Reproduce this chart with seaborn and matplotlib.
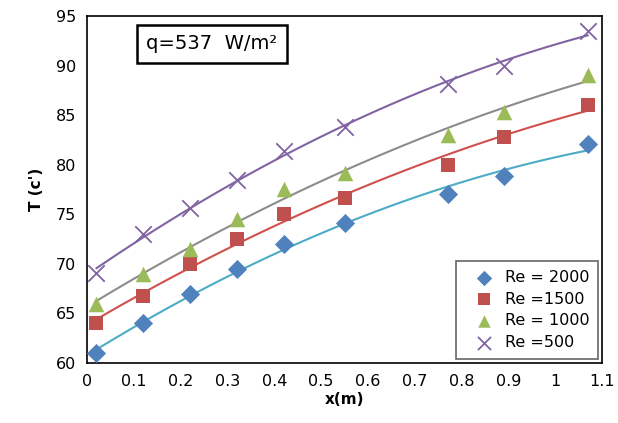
import numpy as np
import pandas as pd
import matplotlib
matplotlib.use("Agg")
import matplotlib.pyplot as plt
import seaborn as sns

# Data
x_m = [0.02, 0.12, 0.22, 0.32, 0.42, 0.55, 0.77, 0.89, 1.07]
t_re2000 = [61.0, 64.0, 67.0, 69.5, 72.0, 74.1, 77.0, 78.9, 82.1]
t_re1500 = [64.0, 66.8, 70.0, 72.5, 75.0, 76.6, 80.0, 82.8, 86.0]
t_re1000 = [66.0, 69.0, 71.5, 74.5, 77.5, 79.2, 83.0, 85.3, 89.0]
t_re500 = [69.1, 73.0, 75.6, 78.5, 81.4, 83.8, 88.1, 90.0, 93.5]

labels = ["Re = 2000", "Re =1500", "Re = 1000", "Re =500"]
x_ticks = [0, 0.1, 0.2, 0.3, 0.4, 0.5, 0.6, 0.7, 0.8, 0.9, 1, 1.1]
x_ticklabels = ["0", "0.1", "0.2", "0.3", "0.4", "0.5", "0.6", "0.7", "0.8", "0.9", "1", "1.1"]
y_ticks = [60, 65, 70, 75, 80, 85, 90, 95]

sns.set_style("white")
plt.rcParams['font.family'] = ['DejaVu Sans']
plt.rcParams['text.color'] = 'black'
plt.rcParams['xtick.color'] = 'black'
plt.rcParams['ytick.color'] = 'black'
plt.rcParams['axes.labelcolor'] = 'black'

fig = plt.figure(figsize=(6.18, 4.23), dpi=100)
ax = fig.add_axes([87 / 618, 1 - 363 / 423, (602 - 87) / 618, (363 - 16) / 423])

series = [
    (t_re2000, "D", "#4F81BD", "#4BACC6", 95),
    (t_re1500, "s", "#C0504D", "#D0504D", 115),
    (t_re1000, "^", "#9BBB59", "#8C8C8C", 125),
    (t_re500, "x", "#8064A2", "#8064A2", 140),
]

df = pd.DataFrame({"x": x_m})
for (vals, marker, mcol, lcol, size), lab in zip(series, labels):
    df["T"] = vals
    # Excel-style 2nd order polynomial trendline
    sns.regplot(data=df, x="x", y="T", ax=ax, order=2, ci=None, truncate=True,
                marker=marker, label=lab,
                scatter_kws={"s": size, "color": mcol, "alpha": 1,
                             "linewidths": 1.3 if marker == "x" else 0, "zorder": 3},
                line_kws={"color": lcol, "lw": 1.5, "zorder": 2})

ax.set_xlim(0, 1.1)
ax.set_ylim(60, 95)
ax.set_xticks(x_ticks)
ax.set_xticklabels(x_ticklabels)
ax.set_yticks(y_ticks)
ax.tick_params(axis="both", length=0, labelsize=11.5, pad=8)
ax.set_xlabel("x(m)", fontsize=11, fontweight="bold", labelpad=2)
ax.set_ylabel("T (c')", fontsize=11, fontweight="bold", labelpad=8)
for sp in ax.spines.values():
    sp.set_color("black")
    sp.set_linewidth(1.2)

ax.text(0.115, 0.92, "q=537  W/m²", transform=ax.transAxes, fontsize=14,
        va="center", ha="left",
        bbox=dict(boxstyle="square,pad=0.5", facecolor="white", edgecolor="black", linewidth=1.8))

leg = ax.legend(loc="lower right", bbox_to_anchor=(0.993, 0.012), borderaxespad=0, fontsize=11.5,
                frameon=True, fancybox=False, edgecolor="#404040",
                handletextpad=0.1, labelspacing=0.42, borderpad=0.55, handlelength=2.4,
                markerscale=0.8)
leg.get_frame().set_linewidth(1.2)

fig.savefig("out.png", dpi=100)
